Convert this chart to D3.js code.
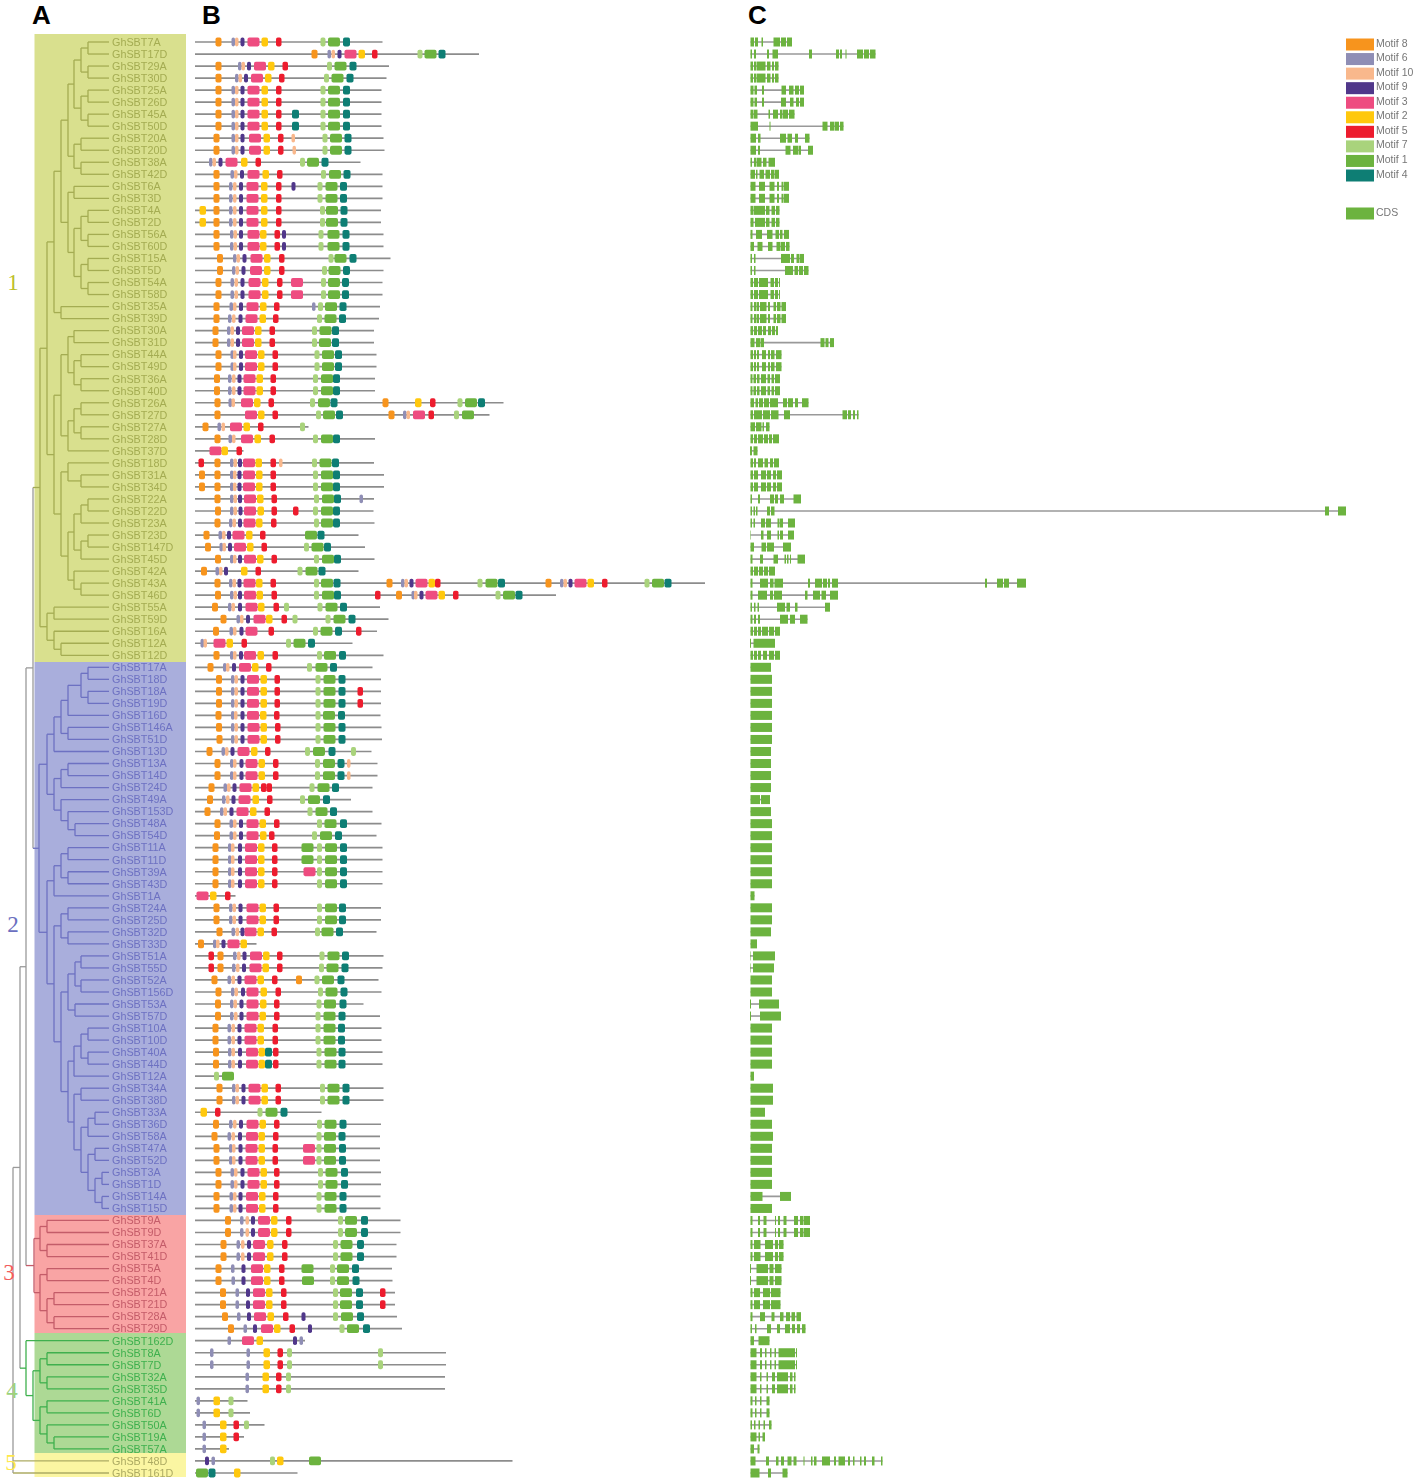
<!DOCTYPE html>
<html lang="en">
<head>
<meta charset="UTF-8">
<title>GhSBT phylogeny, motifs and gene structure</title>
<script src="https://cdn.jsdelivr.net/npm/d3@7"></script>
<style>
  body { margin: 0; background: #fff; }
  svg { display: block; font-family: "Liberation Sans", Arial, sans-serif; }
  .soft { filter: blur(0.45px); }
  .softer { filter: blur(0.7px); }
</style>
</head>
<body>
<script>
// gene order, top to bottom
const geneNames = ['7A','17D','29A','30D','25A','26D','45A','50D','20A','20D','38A','42D','6A','3D','4A','2D','56A','60D','15A','5D','54A','58D','35A','39D','30A','31D','44A','49D','36A','40D','26A','27D','27A','28D','37D','18D','31A','34D','22A','22D','23A','23D','147D','45D','42A','43A','46D','55A','59D','16A','12A','12D',
  '17A','18D','18A','19D','16D','146A','51D','13D','13A','14D','24D','49A','153D','48A','54D','11A','11D','39A','43D','1A','24A','25D','32D','33D','51A','55D','52A','156D','53A','57D','10A','10D','40A','44D','12A','34A','38D','33A','36D','58A','47A','52D','3A','1D','14A','15D',
  '9A','9D','37A','41D','5A','4D','21A','21D','28A','29D',
  '162D','8A','7D','32A','35D','41A','6D','50A','19A','57A',
  '48D','161D'];
const cladeNames = ['1','2','3','4','5'];
const cladeSizes = [52, 46, 10, 10, 2];

// protein lengths (same order as geneNames)
const proteinLengths = [375,568,388,383,373,373,373,373,377,379,331,375,375,375,372,372,377,377,391,377,375,375,370,368,358,358,363,363,360,360,617,589,227,360,97,358,378,378,358,357,359,327,340,359,327,1020,722,370,387,364,315,377,
  355,372,372,372,371,373,374,353,365,365,355,312,355,373,363,375,375,375,375,81,372,372,363,123,377,375,367,373,337,370,373,373,375,375,78,377,377,253,372,370,370,370,372,372,371,371,
  411,411,403,403,394,395,400,400,404,414,
  220,502,502,500,500,105,110,139,98,68,
  635,205];

// motif hits per protein, "motif:start"
const motifHits = [
  '8:41 6:73 10:80 9:91 3:105 2:133 5:162 7:251 1:266 4:296',
  '8:233 6:265 10:273 9:285 3:299 2:327 5:354 7:445 1:459 4:487',
  '8:41 6:86 10:93 9:104 3:118 2:146 5:175 7:264 1:279 4:309',
  '8:41 6:80 10:87 9:98 3:112 2:140 5:168 7:258 1:273 4:303',
  '8:41 6:73 10:80 9:91 3:105 2:133 5:162 7:251 1:266 4:296',
  '8:41 6:73 10:80 9:91 3:105 2:133 5:162 7:251 1:266 4:296',
  '8:41 6:73 10:80 9:91 3:105 2:133 5:162 4:194 7:251 1:266 4:296',
  '8:41 6:73 10:80 9:91 3:105 2:133 5:162 4:194 7:251 1:266 4:296',
  '8:37 6:73 10:80 9:91 3:108 2:137 5:166 10:193 7:255 1:270 4:299',
  '8:37 6:73 10:80 9:91 3:108 2:137 5:166 10:195 7:255 1:270 4:299',
  '6:28 10:35 9:47 3:61 2:92 5:121 7:210 1:224 4:253',
  '8:37 6:71 10:78 9:90 3:105 2:135 5:164 7:252 1:268 4:297',
  '8:37 6:68 10:76 9:88 3:103 2:132 5:162 9:193 7:245 1:261 4:290',
  '8:37 6:68 10:76 9:88 3:103 2:132 5:162 7:245 1:261 4:290',
  '2:9 8:37 6:68 10:76 9:88 3:103 2:132 5:162 7:250 1:262 4:291',
  '2:9 8:37 6:68 10:76 9:88 3:103 2:132 5:162 7:250 1:262 4:291',
  '8:37 6:70 10:77 9:88 3:105 2:130 5:159 9:174 7:247 1:265 4:295',
  '8:37 6:70 10:77 9:88 3:105 2:130 5:159 9:174 7:247 1:265 4:295',
  '8:44 6:76 10:83 9:95 3:111 2:138 5:168 7:267 1:279 4:309',
  '8:44 6:74 10:81 9:93 3:110 2:138 5:168 7:254 1:267 4:296',
  '8:41 6:71 10:79 9:91 3:107 2:134 5:164 3:192 7:252 1:266 4:294',
  '8:41 6:71 10:79 9:91 3:107 2:134 5:164 3:192 7:252 1:266 4:294',
  '8:37 6:69 10:76 9:88 3:103 2:130 5:158 6:234 7:246 1:260 4:289',
  '8:37 6:66 10:74 9:87 3:101 2:129 5:156 7:244 1:259 4:288',
  '8:35 6:64 10:71 9:82 3:94 2:120 5:149 7:234 1:249 4:274',
  '8:35 6:64 10:71 9:82 3:94 2:120 5:149 7:234 1:248 4:274',
  '8:41 6:71 10:76 9:88 3:100 2:126 5:155 7:239 1:254 4:280',
  '8:41 6:71 10:76 9:88 3:100 2:126 5:155 7:239 1:254 4:280',
  '8:38 6:66 10:74 9:85 3:97 2:123 5:151 7:236 1:252 4:276',
  '8:38 6:66 10:74 9:85 3:97 2:123 5:151 7:236 1:252 4:276',
  '8:39 6:67 10:73 3:92 2:118 5:147 7:230 1:246 4:271 8:375 2:440 5:470 7:525 1:540 4:566',
  '8:39 3:100 2:126 5:155 7:242 1:256 4:282 8:387 6:416 10:423 3:436 5:467 7:518 1:534',
  '8:15 6:45 10:53 3:70 2:97 5:126 7:210',
  '8:39 6:67 10:74 3:92 2:119 5:149 7:236 1:252 4:276',
  '3:29 2:53 5:83',
  '5:7 8:39 6:70 10:77 9:86 3:96 2:121 5:151 10:168 7:234 1:249 4:274',
  '8:8 8:39 6:70 10:76 9:85 3:96 2:122 5:151 7:236 1:252 4:276',
  '8:8 8:39 6:70 10:76 9:85 3:96 2:122 5:151 7:236 1:252 4:276',
  '8:39 6:70 10:77 9:86 3:98 2:124 5:153 7:238 1:254 4:278 6:329',
  '8:40 6:70 10:77 9:87 3:98 2:125 5:153 5:196 7:236 1:252 4:276',
  '8:39 6:68 10:75 9:86 3:97 2:122 5:152 7:238 1:252 4:276',
  '8:17 6:47 10:54 9:64 3:75 2:102 5:130 1:220 4:245',
  '8:20 6:49 10:55 9:66 3:78 2:104 5:133 7:218 1:233 4:258',
  '8:40 6:70 10:76 9:86 3:98 2:124 5:153 7:238 1:254 4:278',
  '8:12 6:41 10:48 9:58 2:92 5:121 7:205 1:221 4:247',
  '8:39 6:68 10:75 9:85 3:97 2:122 5:151 7:238 1:252 4:277 8:383 6:412 10:419 9:429 3:441 2:467 5:480 7:565 1:581 4:606 8:701 6:730 10:737 9:747 3:759 2:785 5:814 7:899 1:914 4:939',
  '8:40 6:70 10:77 9:86 3:98 2:123 5:153 7:238 1:254 4:278 5:360 8:402 6:433 10:438 9:449 3:461 2:487 5:516 7:601 1:616 4:641',
  '8:34 6:66 10:73 9:86 3:101 2:126 5:157 7:178 7:245 1:261 4:290',
  '8:51 6:83 10:90 9:102 3:117 2:142 5:173 7:195 7:261 1:277 4:307',
  '8:36 6:69 10:76 9:89 3:101 5:147 7:236 1:251 4:280 5:322',
  '6:11 10:17 3:37 2:63 5:93 7:182 1:197 4:226',
  '8:37 6:70 10:76 9:88 3:98 2:125 5:155 7:244 1:258 4:288',
  // clade 2
  '8:25 6:56 10:62 9:74 3:88 2:114 5:142 7:224 1:241 4:270',
  '8:42 6:72 10:79 9:91 3:104 2:131 5:159 7:241 1:257 4:287',
  '8:42 6:72 10:79 9:91 3:104 2:131 5:159 7:241 1:257 4:287 5:325',
  '8:42 6:72 10:79 9:91 3:104 2:131 5:159 7:241 1:257 4:287 5:325',
  '8:41 6:72 10:78 9:91 3:104 2:130 5:158 7:241 1:256 4:286',
  '8:42 6:72 10:79 9:91 3:105 2:131 5:160 7:241 1:257 4:287',
  '8:43 6:72 10:79 9:91 3:105 2:131 5:160 7:241 1:257 4:287',
  '8:23 6:53 10:60 9:71 3:85 2:112 5:140 7:220 1:236 4:267 7:312',
  '8:39 6:70 10:76 9:89 3:101 2:127 5:156 7:240 1:256 4:285 10:304',
  '8:39 6:70 10:76 9:89 3:101 2:127 5:156 7:240 1:256 4:285 10:304',
  '8:27 6:57 10:64 9:75 3:89 2:115 5:132 5:143 7:229 1:245 4:274',
  '8:24 6:54 10:62 9:73 3:87 2:115 5:144 7:210 1:226 4:256',
  '8:19 6:50 10:57 9:69 3:83 2:110 5:139 7:225 1:241 4:270',
  '8:39 6:69 10:76 9:88 3:103 2:129 5:158 7:244 1:259 4:290',
  '8:38 6:69 10:76 9:88 3:103 2:130 5:148 7:234 1:250 4:280',
  '8:35 6:66 10:72 9:86 3:100 2:126 5:154 1:213 7:244 1:260 4:290',
  '8:35 6:66 10:72 9:86 3:100 2:126 5:154 1:213 7:244 1:260 4:290',
  '8:35 6:66 10:72 9:86 3:100 2:126 5:154 3:217 7:244 1:260 4:290',
  '8:35 6:66 10:72 9:86 3:100 2:126 5:154 7:244 1:260 4:290',
  '3:3 2:30 5:60',
  '8:37 6:68 10:75 9:87 3:103 2:129 5:157 7:244 1:260 4:288',
  '8:37 6:68 10:75 9:87 3:103 2:129 5:157 7:244 1:260 4:288',
  '8:43 6:73 10:81 9:91 3:99 2:125 5:153 7:240 1:253 4:282',
  '8:6 6:36 10:42 9:53 3:65 2:91',
  '5:27 8:45 6:76 10:84 9:95 3:110 2:136 5:164 7:249 1:265 4:294',
  '5:27 8:45 6:74 10:82 9:94 3:109 2:135 5:164 7:248 1:263 4:293',
  '8:33 6:65 10:73 9:85 3:99 2:125 5:154 8:202 7:239 1:254 4:285',
  '8:41 6:72 10:79 9:92 3:103 2:131 5:161 7:246 1:261 4:291',
  '8:40 6:70 10:77 9:89 3:103 2:130 5:158 7:243 1:258 4:289',
  '8:40 6:70 10:78 9:89 3:103 2:129 5:158 7:241 1:257 4:287',
  '8:35 6:65 10:73 9:85 3:99 2:125 5:155 7:241 1:257 4:286',
  '8:35 6:65 10:73 9:85 3:99 2:125 5:155 7:241 1:257 4:286',
  '8:36 6:66 10:73 9:86 3:102 2:127 4:140 5:156 7:243 1:259 4:287',
  '8:36 6:66 10:73 9:86 3:102 2:127 4:140 5:156 7:243 1:259 4:287',
  '7:38 1:54',
  '8:43 6:74 10:81 9:93 3:107 2:133 5:161 7:250 1:265 4:295',
  '8:43 6:74 10:81 9:93 3:107 2:133 5:161 7:250 1:265 4:295',
  '2:11 5:40 7:125 1:141 4:171',
  '8:36 6:68 10:76 9:88 3:103 2:129 5:158 7:244 1:259 4:289',
  '8:33 6:65 10:73 9:86 3:102 2:127 5:156 7:243 1:258 4:287',
  '8:37 6:68 10:74 9:87 3:101 2:127 5:155 3:216 7:243 1:258 4:288',
  '8:37 6:68 10:74 9:87 3:101 2:127 5:155 3:216 7:243 1:258 4:288',
  '8:41 6:71 10:78 9:91 3:105 2:131 5:158 7:246 1:261 4:292',
  '8:41 6:71 10:78 9:91 3:105 2:131 5:158 7:246 1:261 4:292',
  '8:37 6:69 10:76 9:87 3:102 2:128 5:156 7:243 1:259 4:289',
  '8:37 6:69 10:76 9:87 3:102 2:128 5:156 7:243 1:259 4:289',
  // clade 3
  '8:60 6:90 10:101 9:112 3:126 2:152 5:182 7:286 1:300 4:332',
  '8:60 6:90 10:101 9:112 3:126 2:152 5:182 7:286 1:300 4:332',
  '8:51 6:83 10:92 9:104 3:116 2:144 5:174 7:276 1:291 4:324',
  '8:51 6:83 10:92 9:104 3:116 2:144 5:174 7:276 1:291 4:324',
  '8:41 6:72 9:93 3:112 2:138 5:168 1:213 7:270 1:284 4:314',
  '8:41 6:73 9:93 3:112 2:138 5:168 1:214 7:270 1:284 4:315',
  '8:50 6:81 9:102 3:116 2:142 5:172 7:276 1:290 4:322 5:370',
  '8:50 6:81 9:102 3:116 2:142 5:172 7:276 1:290 4:322 5:370',
  '8:54 6:84 9:104 3:118 2:145 5:176 9:213 7:276 1:292 4:324',
  '8:66 6:97 9:116 3:132 2:158 5:189 9:226 7:289 1:304 4:336',
  // clade 4
  '6:65 3:94 2:123 9:196 6:209',
  '6:30 6:103 2:137 5:165 7:184 7:366',
  '6:30 6:103 2:137 5:165 7:184 7:366',
  '6:101 2:135 5:162 7:182',
  '6:101 2:135 5:162 7:182',
  '6:3 2:37 7:67',
  '6:3 2:37 7:67',
  '6:15 2:50 5:77 7:98',
  '6:15 2:50 5:77',
  '6:15 2:50',
  // clade 5
  '9:20 6:33 7:150 2:164 1:228',
  '1:2 4:27 2:78'
];

// residues covered by one hit of each motif
const motifIds = [8, 6, 10, 9, 3, 2, 5, 7, 1, 4];
const motifLengths = [12, 7, 7, 8, 24, 13, 11, 10, 24, 14];

// exons per gene, "start-end" in units of 10 bp from the gene start
const exonRows = [
  '0.5-4 5-8 11.5-13 23.5-30 31-36 37-42',
  '0.5-2 4-6 17-19 22.5-28 59-62 86-89 90-92 95.5-96.5 107-113 114-119 120-125.5',
  '0.5-3 4-6.5 7-15.5 17-20.5 22-24 25-28.5',
  '0.5-3 4-6.5 7-15.5 17-20.5 22-24 25-28.5',
  '0.5-3.5 4.5-7 12-14 31.5-36 39-43.5 45-49 50-54',
  '0.5-3.5 4.5-7 12-14 31-36 40-43.5 46-49 50-54',
  '0.5-3.5 4-7.5 18.5-20 23-28 30-32 32.5-38 39-44.5',
  '0.5-8 19.5-20.5 72.5-77.5 80-84.5 85-89 90-93.5',
  '0.5-6 8-10.5 30-36 37.5-42 45-48 55-59.5',
  '0.5-6 8-10 35.5-40.5 43-48 48.5-51 58-63',
  '0.5-2 4-6.5 7-11.5 13-16.5 18.5-25',
  '0.5-5 6-7.5 9.5-14 15.5-20 21-24 24.5-29',
  '0.5-5.5 9-15 19.5-24.5 27-29 31.5-33.5 34-39',
  '0.5-5.5 9-15 19.5-24.5 27-29 31.5-33.5 34-39',
  '0.5-3.5 4-15 16-19.5 21.5-25 26-29.5',
  '0.5-3.5 5-15 16-19.5 21.5-25 26-29.5',
  '0.5-2.5 6-12 17-22.5 25.5-29 30-32.5 34-39',
  '0.5-4 7.5-12.5 18-22.5 26.5-30 30.5-35 36-39.5',
  '0.5-2 4-5.5 31-40 41-44 46.5-49.5 50-54',
  '0.5-2 4-5.5 35-43 44.5-48 49-53 54-58.5',
  '0.5-3 4-8 9-18 20.5-24 25-28 29-30',
  '0.5-3 4-8 9-18 20.5-24 25-28 29-30',
  '0.5-2.5 4-6 6.5-9 10-16.5 18-20 23.5-26 27-30.5 31.5-36',
  '0.5-2.5 4-6 6.5-9 10-16.5 18-20 23.5-26 27-30.5 31.5-36',
  '0.5-3 4-7 8-12 13-16 18-21 22-25 26-28',
  '0.5-4.5 6-10 10.5-14 70.5-74.5 75.5-78.5 80-84',
  '0.5-3 4-6 7-9 12-16 18-20 21-24.5 26-31.5',
  '0.5-3 4-6 7-9 12-16 18-20 21-24.5 26-31.5',
  '0.5-2.5 3.5-6 7-9.5 11-16 17.5-20 21.5-24 25-30',
  '0.5-2.5 3.5-6 7-9.5 11-16 17.5-20 21.5-24 25-30',
  '0.5-4 5.5-8 9-13 14-19 20-28 33-37 38-43 45-48 52-58.5',
  '0.5-3 4-12 13-20 21-28.5 34-40 92.5-97 98-101 103-105 107-108.5',
  '0.5-5 6-11.5 12.5-14 16-19.5',
  '0.5-3 4-7 8-13 14-18 19-22 23-29',
  '0-2 3.5-7.5',
  '0.5-3 4-6 8-13 14.5-18 20-23 24-29',
  '0.5-3 4-8 11-16 17-21 23-26 27-32',
  '0.5-3 4-8 11-16 17-21 23-26 27-32',
  '0.5-2 8-10 20-24 25-28 30-34 43.5-51',
  '0.5-2 3.5-5 6-7.5 17-20 21-24.5 575-579 588-596',
  '0.5-2 3.5-5 11-15 16-21 27.5-29.5 30-33 38-45',
  '0.5-1 11-13.5 17-21 27.5-29 30-33 38-44',
  '0.5-4 11.5-16 17-24 33-41',
  '0.5-2.5 10-13 23.5-28 34.5-36 37-38.5 40-41 47.5-55',
  '0.5-3 4-8 9-13 14-18 19-25',
  '0.5-2.5 10-18 20-23.5 24.5-33 58-60 65-72 73-77 78-80 82-88 235-237 247-253 254-259 267-276',
  '0.5-2.5 8-17 20-23 24-32 55-57.5 63-70 71.5-76 80-88',
  '0.5-2 4-5.5 7.5-9 27-35 36.5-40 45-47.5 75-80',
  '0.5-2.5 4-6 8-10 30-38 40-45 50-57.5',
  '0.5-3 4-7 8-11 12-18 19-24 25-30',
  '0-1 3.5-25',
  '0.5-3 4-7 8-11 13-17 19-24 25-30',
  // clade 2
  '0.5-21','0.5-22','0.5-22','0.5-22','0.5-22','0.5-22','0.5-22','0.5-21','0.5-21','0.5-21','0.5-21','0.5-10 11-20','0.5-21','0.5-22','0.5-22','0.5-22','0.5-22','0.5-22','0.5-22','0.5-4.5','0.5-22','0.5-22','0.5-21','0.5-7',
  '0-0.5 3-25','0-0.5 3-24','0.5-22','0.5-22','0-1 9-29','0-1 10-31','0.5-22','0.5-22','0.5-22','0.5-22','0.5-4','0.5-23','0.5-23','0.5-15','0.5-22','0.5-23','0.5-22','0.5-22','0.5-22','0.5-22','0.5-12.5 30-41','0.5-22',
  // clade 3
  '0.5-2.5 8-10 13.5-16.5 25-26 28-30 33.5-36.5 44-48 50-53.5 54-60',
  '0.5-2.5 8-10 13.5-16.5 25-26 28-30 33.5-36.5 44-48 50-53.5 54-60',
  '0.5-2.5 4-10.5 15-23 25-28 29-33.5',
  '0.5-2.5 4-10.5 15-23 25-28 29-33.5',
  '0-1 6.5-18 19.5-23.5 25-31.5',
  '0-1 6.5-18 19.5-23.5 25-31.5',
  '0.5-2.5 4-10 13-20 21-30.5',
  '0.5-2.5 4-10 13-20 21-30.5',
  '0.5-2.5 10-15 21.5-24.5 30-33.5 36-40 41.5-45 46.5-51',
  '0.5-2 5-6.5 17-21 27-30 35-40 42-45 47-50 52-55.5',
  // clade 4
  '0.5-4 8.5-19.5',
  '0.5-6.5 10-12 15-16.5 20-21.5 24.5-26 28.5-45 46-47',
  '0.5-6.5 10-12 15-16.5 20-21.5 24.5-26 28.5-45 46-47',
  '0.5-6.5 10-11.5 16.5-18 22-25 27-38 40-42.5 44-45.5',
  '0.5-6.5 10-11.5 16.5-18 22-25 27-38 40-42.5 44-45.5',
  '0.5-2.5 5-6.5 10-11.5 16.5-19.5',
  '0.5-2.5 5-6.5 10-11.5 16.5-19.5',
  '0.5-2 4-5.5 8.5-10 13.5-15 19-21.5',
  '0.5-6.5 8.5-10 12.5-15',
  '0.5-4 7.5-9.5',
  // clade 5
  '0.5-5.5 16-19 26-28.5 31-34 37.5-41.5 43.5-46.5 53.5-54.5 61-62.5 64-66.5 72-80 84-86 88.5-95 98-100 103-104.5 110-111.5 114-116 122-124.5 131-132.5',
  '0.5-9.5 18-21 32.5-37.5'
];

// tree as [distance from root, ...children]; leaves follow geneNames order
const tree = [0,
  [7,
    [13,
      [20,
        [27,
          [34,
            [41,
              [48,
                [55,
                  [61, [68, [75,'7A','17D'], [75,'29A','30D']], [68, [75,'25A','26D'], [75,'45A','50D']]],
                  [61, [68,'20A','20D'], [68,'38A','42D']]],
                [55,
                  [61,'6A','3D'],
                  [61, [68, [75,'4A','2D'], [75,'56A','60D']], [68, [75,'15A','5D'], [75,'54A','58D']]]]],
              [48,'35A','39D']],
            [41,
              [48,
                [55, [61,'30A','31D'], [61, [68,'44A','49D'], [68,'36A','40D']]],
                [55, [61, [68,'26A','27D'], [68,'27A','28D']], '37D']],
              [48,
                [55, '18D', [68,'31A','34D']],
                [55,
                  [61, [68, [75,'22A','22D'], '23A'], [68, [75,'23D','147D'], '45D']],
                  [61, '42A', [68,'43A','46D']]]]]],
          [34, [41,'55A','59D'], [41,'16A', [48,'12A','12D']]]],
        [26,
          [34,
            [41,
              [48,
                [55, [68, [75,'17A','18D'], [75,'18A','19D']], '16D'],
                [55,'146A','51D']],
              '13D'],
            [41,
              [48, [55,'13A','14D'], '24D'],
              [48, '49A', [55,'153D', [62,'48A','54D']]]]],
          [34,
            [41, [48, [55,'11A','11D'], [55,'39A','43D']], '1A'],
            [41,
              [48, [55,'24A','25D'], [55,'32D','33D']],
              [48,
                [55, [62, [68,'51A','55D'], [68,'52A','156D']], [62,'53A','57D']],
                [55,
                  [61, [68, [75,'10A','10D'], [75,'40A','44D']], '12A'],
                  [61,
                    [68,'34A','38D'],
                    [68,
                      [75, [82,'33A','36D'], '58A'],
                      [75, [82,'47A','52D'], [82, [89,'3A','1D'], [89,'14A','15D']]]]]]]]]]],
      [21,
        [27, [34,'9A','9D'], [34,'37A','41D']],
        [27, [34,'5A','4D'], [34, [41,'21A','21D'], [41,'28A','29D']]]]],
    [13,
      '162D',
      [20,
        [27, [34,'8A','7D'], [34,'32A','35D']],
        [27, [34,'41A','6D'], [34,'50A', [41,'19A','57A']]]]]],
  '48D', '161D'];

const cladeFill = ['#d9e08e', '#a9aedc', '#f9a4a4', '#add995', '#fbf6a2'];
const cladeInk = ['#a4ac52', '#6d71c2', '#c45c69', '#3fb04e', '#adab63'];
const cladeNumberInk = ['#bdbf2c', '#6b6fc0', '#f25c5c', '#9dd27c', '#ffe84a'];
const cladeNumberY = [282, 924, 1272, 1390, 1462];
const cladeNumberX = [13, 13, 9, 12, 11];
const treeGrey = '#9a9a9a';
const motifColors = ['#f7941d', '#8f8eb5', '#f9b88c', '#50378a', '#ee4c80', '#ffc80d', '#ed1c2e', '#a9d37c', '#6cb33f', '#0e7e74'];

const width = 1419, height = 1481, barH = 8.8;

const rowY = d3.scalePoint().domain(d3.range(geneNames.length)).range([42, 1473]);
const motifX = d3.scaleLinear().domain([0, 1020]).range([195, 705]);
const exonX = d3.scaleLinear().domain([0, 600]).range([750, 1350]);
const treeX = d3.scaleLinear().domain([0, 96]).range([13, 109]);
const motifFill = d3.scaleOrdinal().domain(motifIds).range(motifColors);
const motifLen = d3.scaleOrdinal().domain(motifIds).range(motifLengths);

const cladeEnds = d3.cumsum(cladeSizes);
const cladeOf = d3.scaleThreshold().domain(Array.from(cladeEnds)).range(d3.range(cladeSizes.length + 1));

const svg = d3.select('body').append('svg').attr('width', width).attr('height', height);

// clade bands
const bandEdges = [34, 662, 1215, 1333, 1453, 1477];
svg.append('g').attr('class', 'soft').selectAll('rect').data(cladeNames).enter().append('rect')
  .attr('x', 34.5).attr('width', 151.5)
  .attr('y', (d, i) => bandEdges[i])
  .attr('height', (d, i) => bandEdges[i + 1] - bandEdges[i])
  .attr('fill', (d, i) => cladeFill[i]);

// tree
const root = d3.hierarchy(tree, d => Array.isArray(d) ? d.slice(1) : null);
let leafIndex = 0;
root.eachAfter(n => {
  if (!n.children) {
    n.row = leafIndex++;
    n.py = rowY(n.row);
    n.px = treeX(96);
    n.clade = cladeOf(n.row);
  } else {
    const c = n.children;
    n.py = (c[0].py + c[c.length - 1].py) / 2;
    n.px = treeX(n.data[0]);
    const s = new Set(c.map(k => k.clade));
    n.clade = s.size === 1 && c[0].clade !== null ? c[0].clade : null;
  }
});
const inkOf = n => n.clade === null ? treeGrey : cladeInk[n.clade];
const gTree = svg.append('g').attr('class', 'soft').attr('fill', 'none').attr('stroke-width', 1.3);
gTree.selectAll('path.stem').data(root.descendants().filter(n => n.children)).enter().append('path')
  .attr('class', 'stem')
  .attr('stroke', inkOf)
  .attr('d', n => `M${n.px},${n.children[0].py}V${n.children[n.children.length - 1].py}`);
gTree.selectAll('path.branch').data(root.links()).enter().append('path')
  .attr('class', 'branch')
  .attr('stroke', l => inkOf(l.target))
  .attr('d', l => `M${l.source.px},${l.target.py}H${l.target.px}`);

// gene labels
svg.append('g').attr('class', 'soft').attr('font-size', 10.8).selectAll('text').data(geneNames).enter().append('text')
  .attr('x', 112)
  .attr('y', (d, i) => rowY(i) + 3.8)
  .attr('fill', (d, i) => cladeInk[cladeOf(i)])
  .text(d => 'GhSBT' + d);

// clade numbers
svg.append('g').attr('font-family', '"Liberation Serif", serif').attr('font-size', 23)
  .attr('text-anchor', 'middle')
  .selectAll('text').data(cladeNames).enter().append('text')
  .attr('x', (d, i) => cladeNumberX[i])
  .attr('y', (d, i) => cladeNumberY[i] + 8)
  .attr('fill', (d, i) => cladeNumberInk[i])
  .text(d => d);

// panel letters
const panelLetters = ['A', 'B', 'C'];
const panelLetterX = [32, 202, 748];
svg.append('g').attr('font-size', 26).attr('font-weight', 'bold').attr('fill', '#000')
  .selectAll('text').data(panelLetters).enter().append('text')
  .attr('x', (d, i) => panelLetterX[i]).attr('y', 24).text(d => d);

// B: motif tracks
const gMotif = svg.append('g').attr('class', 'soft');
gMotif.selectAll('line').data(proteinLengths).enter().append('line')
  .attr('x1', motifX(0))
  .attr('x2', d => motifX(d))
  .attr('y1', (d, i) => rowY(i))
  .attr('y2', (d, i) => rowY(i))
  .attr('stroke', '#8c8c8c').attr('stroke-width', 1.7);

const hits = motifHits.flatMap((row, i) => row.split(' ').map(s => {
  const [m, start] = s.split(':').map(Number);
  return { row: i, motif: m, start };
}));
gMotif.selectAll('rect').data(hits).enter().append('rect')
  .attr('x', d => motifX(d.start))
  .attr('width', d => motifX(d.start + motifLen(d.motif)) - motifX(d.start))
  .attr('y', d => rowY(d.row) - barH / 2)
  .attr('height', barH)
  .attr('rx', 1.8)
  .attr('fill', d => motifFill(d.motif));

// C: gene structure
const exons = exonRows.map(row => row.split(' ').map(s => s.split('-').map(Number)));
const gExon = svg.append('g').attr('class', 'softer');
gExon.selectAll('line').data(exons).enter().append('line')
  .attr('x1', d => exonX(d[0][0]))
  .attr('x2', d => exonX(d[d.length - 1][1]))
  .attr('y1', (d, i) => rowY(i))
  .attr('y2', (d, i) => rowY(i))
  .attr('stroke', '#999').attr('stroke-width', 1.6);
gExon.selectAll('rect')
  .data(exons.flatMap((row, i) => row.map(e => ({ row: i, a: e[0], b: e[1] }))))
  .enter().append('rect')
  .attr('x', d => exonX(d.a))
  .attr('width', d => exonX(d.b) - exonX(d.a))
  .attr('y', d => rowY(d.row) - 4.5)
  .attr('height', 9)
  .attr('fill', '#6cb33f');

// legend
const legendY = d3.scalePoint().domain(motifIds).range([44.5, 175.5]);
const gLegend = svg.append('g').attr('class', 'soft').attr('font-size', 10.5).attr('fill', '#777');
const legendRow = gLegend.selectAll('g').data(motifIds).enter().append('g')
  .attr('transform', d => `translate(1346,${legendY(d)})`);
legendRow.append('rect').attr('y', -6).attr('width', 28).attr('height', 12).attr('fill', d => motifFill(d));
legendRow.append('text').attr('x', 30).attr('y', 2).text(d => 'Motif ' + d);
const cdsRow = gLegend.append('g').attr('transform', 'translate(1346,213.5)');
cdsRow.append('rect').attr('y', -6).attr('width', 28).attr('height', 12).attr('fill', '#6cb33f');
cdsRow.append('text').attr('x', 30).attr('y', 2).text('CDS');
</script>
</body>
</html>
